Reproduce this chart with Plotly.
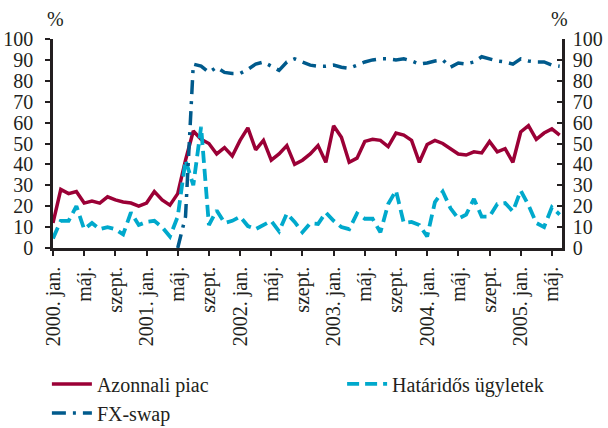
import plotly.graph_objects as go

# Monthly observations, 2000 January - 2005 June
months = [f"{y}-{m:02d}" for y in range(2000, 2006) for m in range(1, 13)][:66]

azonnali = [12, 28, 26, 27, 21.5, 22.5, 21.5, 24.5, 23, 22, 21.5, 20,
            21.5, 27, 23, 20.5, 26, 42, 56, 52, 50, 45, 48, 44,
            51.5, 57.5, 47, 51.5, 42, 45, 49, 40, 42, 45, 49, 41,
            58.5, 53, 41, 43, 51, 52, 51.5, 48.5, 55, 54, 51.5, 41,
            49.5, 51.5, 50, 47.5, 45, 44.5, 46, 45.5, 51, 46, 47.5, 41,
            55.5, 58.5, 52, 55, 57, 54]

hataridos = [4.5, 13, 13, 20, 9, 12, 9, 10, 9, 6.5, 17, 11,
             12.5, 13, 10, 5.5, 15, 42, 30, 58, 11, 18, 12, 13,
             15, 10.5, 9, 11, 13, 8, 16.5, 12.5, 7.5, 11.8, 11.5, 17,
             13, 10, 9, 16.5, 14, 14, 7.5, 21, 27.5, 12, 12.5, 11,
             5.5, 22, 27, 19, 14, 16, 23.5, 15, 15, 21, 21.5, 17.5,
             27.5, 20.5, 12, 10, 19.5, 16]

fx_swap = [None] * 16 + [
    0, 15, 88, 87, 84, 86.5, 84, 83.5,
    83.5, 85.5, 88, 89, 87, 85, 89, 90.5, 89, 87.5, 87, 87,
    87.5, 86.5, 86, 87.5, 89, 90, 90.5, 90.5, 90, 90.5, 89.5, 88,
    88.5, 89.5, 90, 86.5, 88.5, 88, 89, 91.5, 90.5, 89.5, 89, 88,
    90.5, 89.5, 89, 89, 87.5, 87]

tick_months = months[::4]
tick_labels = ["2000. jan.", "máj.", "szept.", "2001. jan.", "máj.", "szept.",
               "2002. jan.", "máj.", "szept.", "2003. jan.", "máj.", "szept.",
               "2004. jan.", "máj.", "szept.", "2005. jan.", "máj."]

y_ticks = list(range(0, 101, 10))

FONT = "Liberation Serif, Times New Roman, serif"
INK = "#231f20"
RED = "#9b0036"
LIGHT_BLUE = "#00a9cc"
DARK_BLUE = "#005a8c"

fig = go.Figure()
fig.add_trace(go.Scatter(x=months, y=azonnali, name="Azonnali piac", mode="lines",
                         line=dict(color=RED, width=3.5), legend="legend"))
fig.add_trace(go.Scatter(x=months, y=hataridos, name="Határidős ügyletek", mode="lines",
                         line=dict(color=LIGHT_BLUE, width=3.8, dash="12px,6px"),
                         legend="legend2"))
fig.add_trace(go.Scatter(x=months, y=fx_swap, name="FX-swap", mode="lines",
                         line=dict(color=DARK_BLUE, width=3.5, dash="14px,7px,3px,7px"),
                         legend="legend"))
# carrier for the right-hand scale
fig.add_trace(go.Scatter(x=[months[0]], y=[None], yaxis="y2", showlegend=False,
                         hoverinfo="skip", mode="lines"))

axis_common = dict(showline=True, linecolor=INK, linewidth=2.5, showgrid=False,
                   zeroline=False, tickcolor=INK, tickwidth=2, automargin=False,
                   tickfont=dict(family=FONT, size=20, color=INK))

legend_font = dict(family=FONT, size=20, color=INK)

fig.update_layout(
    width=608, height=428,
    margin=dict(l=53, r=46, t=39, b=180, autoexpand=False),
    paper_bgcolor="white", plot_bgcolor="white",
    font=dict(family=FONT, size=20, color=INK),
    xaxis=dict(type="category", categoryorder="array", categoryarray=months,
               range=[0, 65.3], ticks="outside", ticklen=5,
               tickmode="array", tickvals=tick_months, ticktext=tick_labels,
               tickangle=-90, ticklabelstandoff=3, **axis_common),
    yaxis=dict(range=[0, 100], tickmode="array", tickvals=y_ticks,
               ticks="outside", ticklen=5, ticklabelstandoff=8, **axis_common),
    yaxis2=dict(range=[0, 100], tickmode="array", tickvals=y_ticks,
                overlaying="y", side="right", ticks="inside", ticklen=5,
                ticklabelstandoff=4, **axis_common),
    legend=dict(orientation="v", x=-0.012, y=-0.557, xanchor="left", yanchor="top",
                tracegroupgap=0, font=legend_font, itemwidth=40,
                bgcolor="rgba(0,0,0,0)"),
    legend2=dict(orientation="v", x=0.568, y=-0.557, xanchor="left", yanchor="top",
                 font=legend_font, itemwidth=40, bgcolor="rgba(0,0,0,0)"),
    annotations=[
        dict(text="%", xref="paper", yref="paper", x=0.005, y=1.035, showarrow=False,
             xanchor="center", yanchor="bottom", font=dict(family=FONT, size=20, color=INK)),
        dict(text="%", xref="paper", yref="paper", x=0.995, y=1.035, showarrow=False,
             xanchor="center", yanchor="bottom", font=dict(family=FONT, size=20, color=INK)),
    ],
)

fig.write_html("out.html")
